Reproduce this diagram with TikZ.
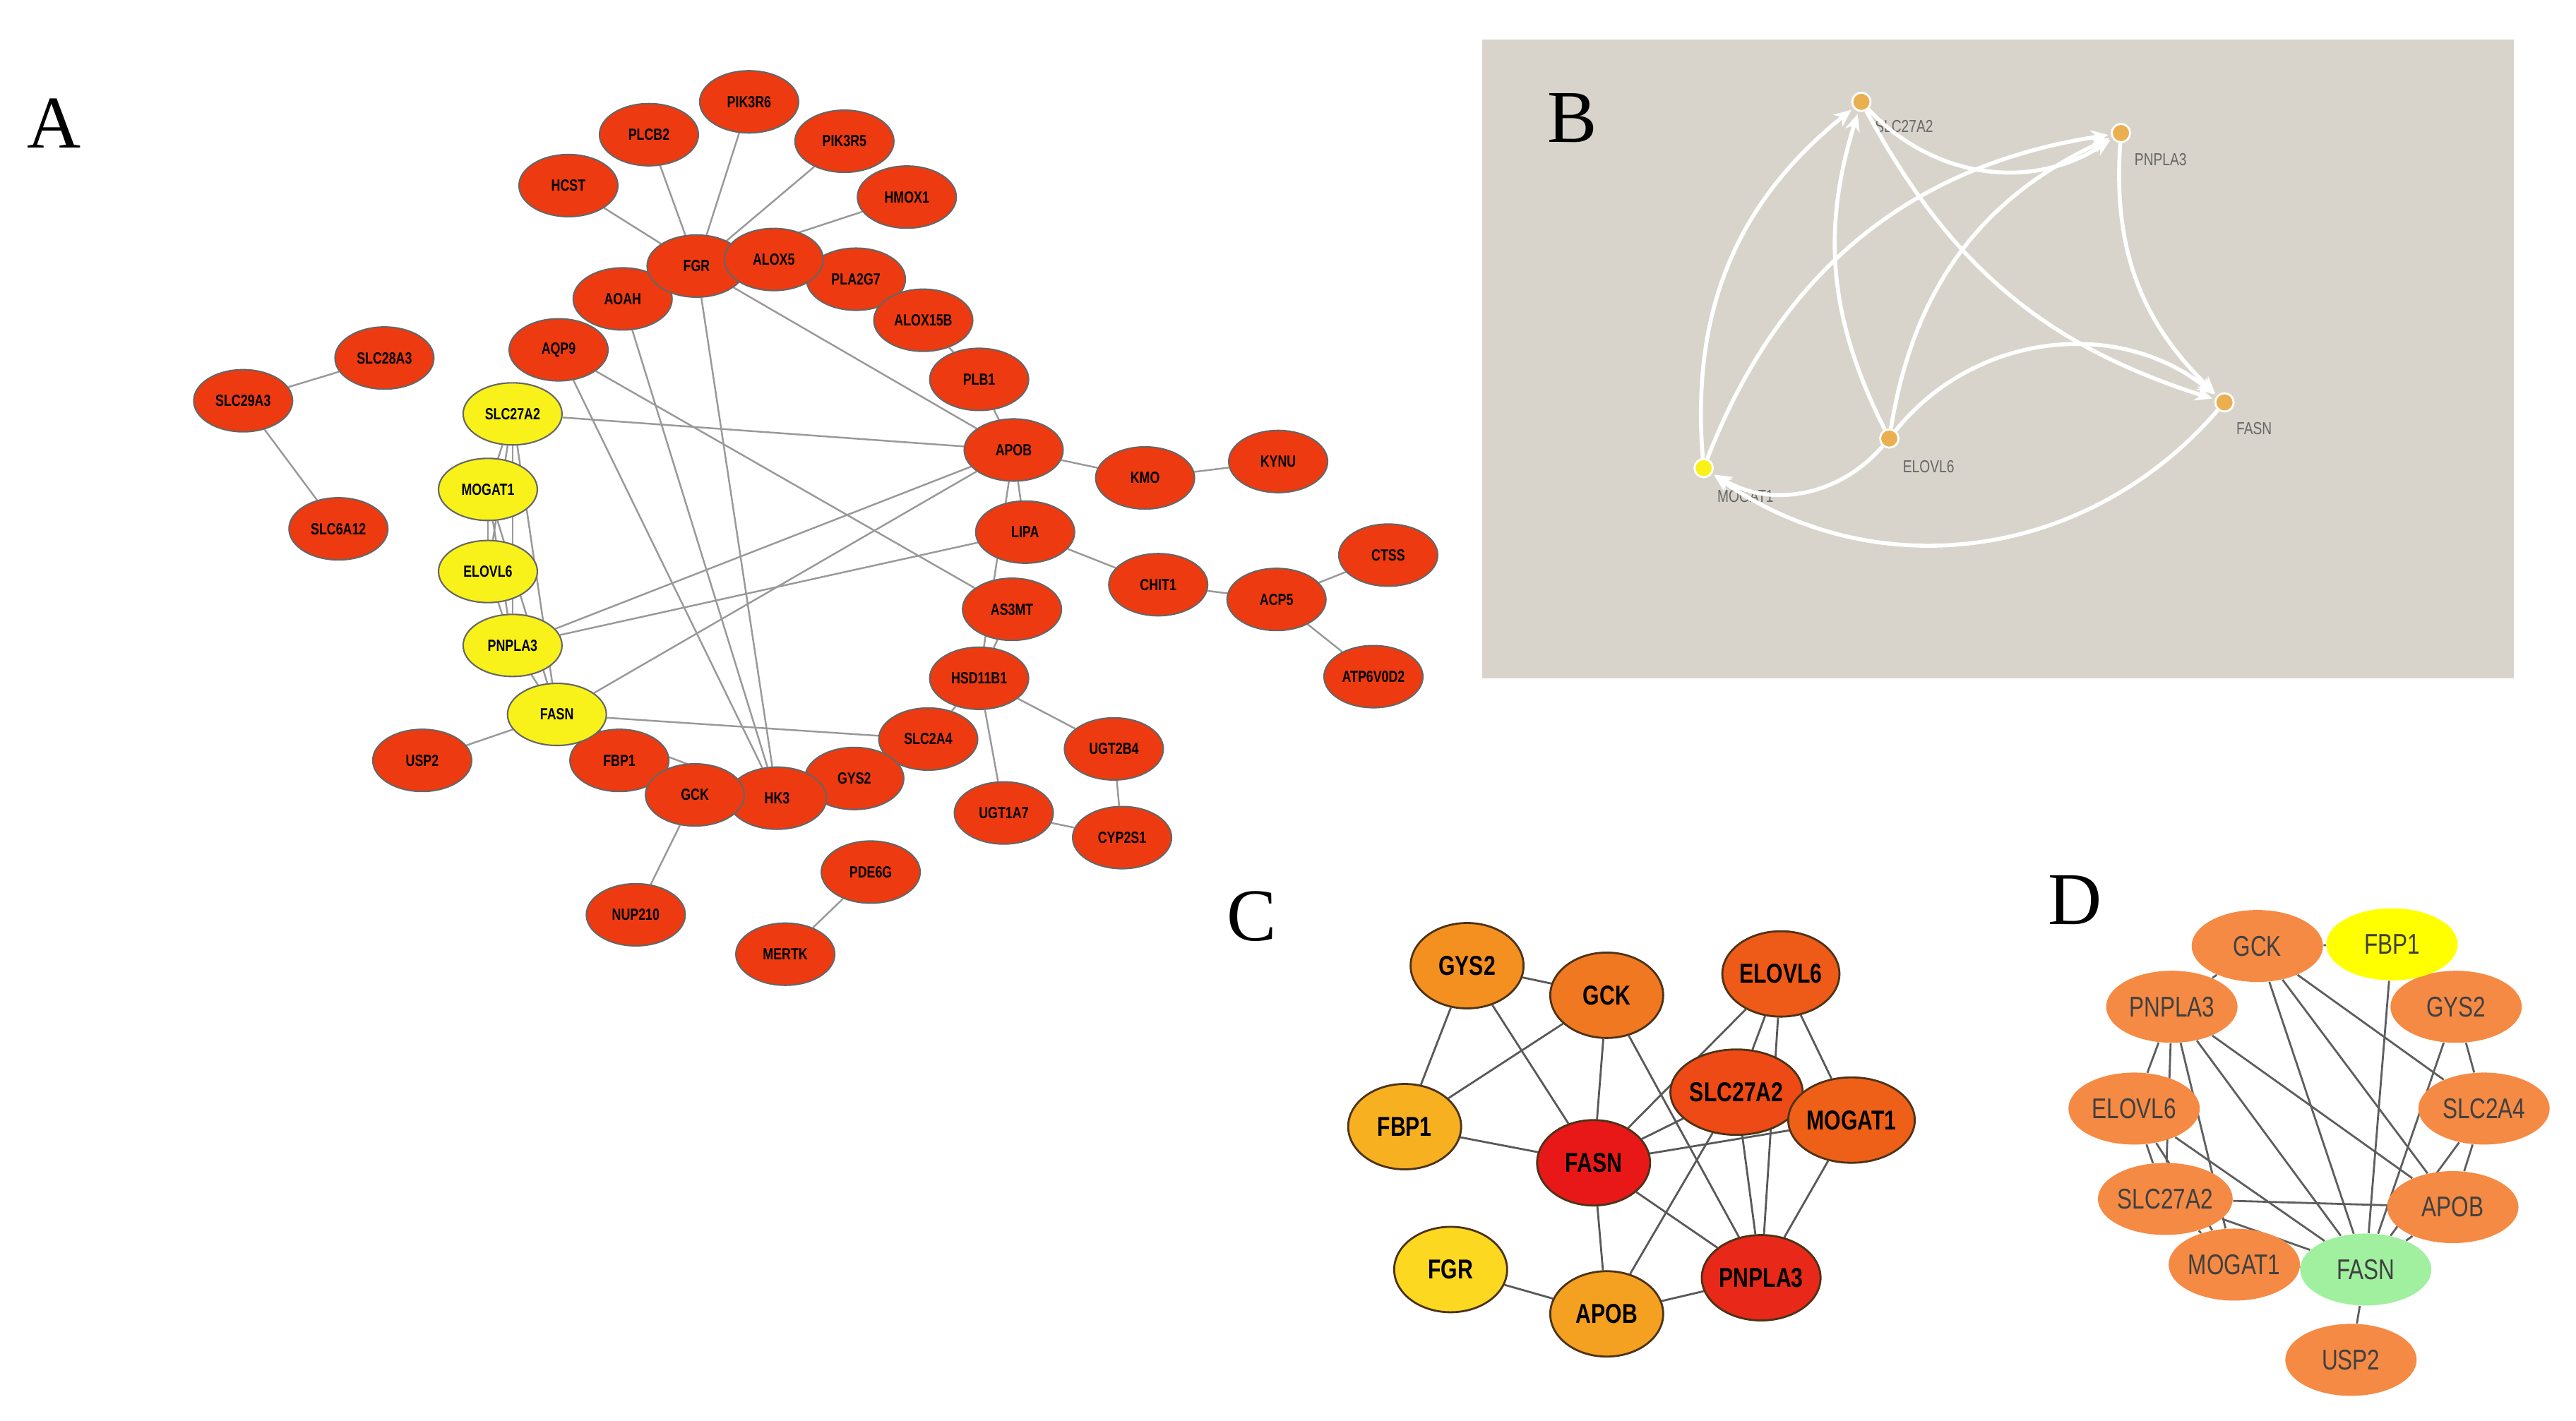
\documentclass[tikz,border=0pt]{standalone}
\usepackage{fontspec}
\setmainfont{Liberation Serif}
\newfontfamily\sansf{Liberation Sans}
\newfontfamily\sansn{Liberation Sans}[FakeStretch=0.78]
\usetikzlibrary{shapes.geometric,arrows.meta,backgrounds}
\definecolor{ared}{HTML}{EE3A10}
\definecolor{ayel}{HTML}{F8F21A}
\definecolor{bbg}{HTML}{D8D4CC}
\definecolor{bdot}{HTML}{EAB050}
\definecolor{dorg}{HTML}{F58A45}
\tikzset{
 an/.style={ellipse,draw=black!60,line width=0.6pt,fill=ared,minimum width=1.4cm,minimum height=0.88cm,inner sep=0pt,font=\sansn\bfseries\fontsize{6.5}{7}\selectfont},
 ay/.style={an,fill=ayel},
 ae/.style={draw=gray!80,line width=0.7pt},
 bn/.style={circle,draw=white,line width=0.8pt,fill=bdot,minimum size=0.26cm,inner sep=0pt},
 bl/.style={font=\sansn\fontsize{7}{8}\selectfont,text=gray!80!black},
 be/.style={draw=white,line width=1.6pt,-{Stealth[length=7pt,width=6pt]},shorten >=1pt},
 cn/.style={ellipse,draw=black!60!brown,line width=0.8pt,minimum width=1.6cm,minimum height=1.21cm,inner sep=0pt,font=\sansn\bfseries\fontsize{11}{12}\selectfont},
 ce/.style={draw=gray!70!black,line width=0.8pt},
 dn/.style={ellipse,draw=none,fill=dorg,minimum width=1.86cm,minimum height=1.02cm,inner sep=0pt,font=\sansn\fontsize{11.5}{12}\selectfont,text=black!75},
 de/.style={draw=gray!60!black!90,line width=0.8pt},
 pl/.style={font=\fontsize{30}{32}\selectfont},
}
\begin{document}
\begin{tikzpicture}[x=0.02327cm,y=-0.02327cm]
\useasboundingbox (0,0) rectangle (1568,865);
% ---------- Panel A ----------
\node[pl] (LA) at (33,75) {A};
\foreach \n/\x/\y/\t in {PIK3R6/456/62/PIK3R6,PLCB2/395/82/PLCB2,PIK3R5/514/86/PIK3R5,HCST/346/113/HCST,HMOX1/552/120/HMOX1,AOAH/379/182/AOAH,FGR/424/162/FGR,PLA2G7/521/170/PLA2G7,ALOX5/471/158/ALOX5,ALOX15B/562/195/ALOX15B,AQP9/340/213/AQP9,PLB1/596/231/PLB1,SLC28A3/234/218/SLC28A3,SLC29A3/148/244/SLC29A3,APOB/617/274/APOB,KMO/697/291/KMO,KYNU/778/281/KYNU,SLC6A12/206/322/SLC6A12,LIPA/624/324/LIPA,CTSS/845/338/CTSS,CHIT1/705/356/CHIT1,ACP5/777/365/ACP5,AS3MT/616/371/AS3MT,HSD11B1/596/413/HSD11B1,ATP6V0D2/836/412/ATP6V0D2,USP2/257/463/USP2,SLC2A4/565/450/SLC2A4,UGT2B4/678/456/UGT2B4,FBP1/377/463/FBP1,GYS2/520/474/GYS2,HK3/473/486/HK3,GCK/423/484/GCK,UGT1A7/611/495/UGT1A7,CYP2S1/683/510/CYP2S1,PDE6G/530/531/PDE6G,NUP210/387/557/NUP210,MERTK/478/581/MERTK}
  \node[an] (a\n) at (\x,\y) {\t};
\foreach \n/\x/\y in {SLC27A2/312/252,MOGAT1/297/298,ELOVL6/297/348,PNPLA3/312/393,FASN/339/435}
  \node[ay] (a\n) at (\x,\y) {\n};
\begin{scope}[on background layer]
\foreach \u/\v in {HCST/FGR,PLCB2/FGR,PIK3R6/FGR,PIK3R5/FGR,HMOX1/FGR,FGR/APOB,AQP9/HK3,AOAH/HK3,FGR/HK3,AQP9/AS3MT,SLC27A2/APOB,PNPLA3/APOB,FASN/APOB,PNPLA3/LIPA,SLC29A3/SLC28A3,SLC29A3/SLC6A12,APOB/KMO,KMO/KYNU,APOB/LIPA,LIPA/CHIT1,CHIT1/ACP5,ACP5/CTSS,ACP5/ATP6V0D2,PLB1/APOB,ALOX15B/PLB1,APOB/HSD11B1,AS3MT/HSD11B1,HSD11B1/UGT2B4,HSD11B1/UGT1A7,UGT2B4/CYP2S1,UGT1A7/CYP2S1,FASN/SLC2A4,FASN/HK3,FASN/USP2,GCK/NUP210,PDE6G/MERTK,SLC27A2/MOGAT1,MOGAT1/ELOVL6,ELOVL6/PNPLA3,PNPLA3/FASN,SLC27A2/PNPLA3,MOGAT1/PNPLA3,SLC27A2/ELOVL6,SLC27A2/FASN,MOGAT1/FASN,HSD11B1/SLC2A4}
  \draw[ae] (a\u) -- (a\v);
\end{scope}
% ---------- Panel B ----------
\fill[bbg] (902,24) rectangle (1530,413);
\node[pl] (LB) at (957,72) {B};
\node[bn] (bS) at (1133,62) {};
\node[bn] (bP) at (1291,81) {};
\node[bn] (bF) at (1354,245) {};
\node[bn] (bE) at (1150,267) {};
\node[bn,fill=ayel] (bM) at (1037,285) {};
\node[bl,anchor=north west] (tS) at (1136,68) {SLC27A2};
\node[bl,anchor=north west] (tP) at (1294,88) {PNPLA3};
\node[bl,anchor=north west] (tF) at (1356,252) {FASN};
\node[bl,anchor=north west] (tE) at (1153,275) {ELOVL6};
\node[bl,anchor=north west] (tM) at (1040,293) {MOGAT1};
\draw[be] (bM) to[bend left=28] (bS);
\draw[be] (bM) to[bend left=30] (bP);
\draw[be] (bE) to[bend left=22] (bS);
\draw[be] (bE) to[bend left=28] (bP);
\draw[be] (bS) to[bend right=40] (bP);
\draw[be] (bS) to[bend right=22] (bF);
\draw[be] (bP) to[bend right=25] (bF);
\draw[be] (bE) to[bend left=45] (bF);
\draw[be] (bF) to[bend left=42] (bM);
\draw[be] (bE) to[bend left=40] (bM);
% ---------- Panel C ----------
\node[pl] (LC) at (762,558) {C};
\node[cn,fill={rgb,255:red,243;green,144;blue,32}] (cGYS2) at (893,588) {GYS2};
\node[cn,fill={rgb,255:red,240;green,120;blue,32}] (cGCK) at (978,606) {GCK};
\node[cn,fill={rgb,255:red,238;green,90;blue,24}] (cELOVL6) at (1084,593) {ELOVL6};
\node[cn,fill={rgb,255:red,246;green,176;blue,32}] (cFBP1) at (855,686) {FBP1};
\node[cn,fill={rgb,255:red,238;green,74;blue,21}] (cSLC27A2) at (1057,665) {SLC27A2};
\node[cn,fill={rgb,255:red,238;green,96;blue,24}] (cMOGAT1) at (1127,682) {MOGAT1};
\node[cn,fill={rgb,255:red,232;green,24;blue,24}] (cFASN) at (970,708) {FASN};
\node[cn,fill={rgb,255:red,252;green,216;blue,32}] (cFGR) at (883,773) {FGR};
\node[cn,fill={rgb,255:red,244;green,160;blue,32}] (cAPOB) at (978,800) {APOB};
\node[cn,fill={rgb,255:red,232;green,40;blue,24}] (cPNPLA3) at (1072,778) {PNPLA3};
\begin{scope}[on background layer]
\foreach \u/\v in {GYS2/GCK,GYS2/FBP1,GYS2/FASN,GCK/FBP1,GCK/FASN,GCK/PNPLA3,FBP1/FASN,ELOVL6/SLC27A2,ELOVL6/FASN,ELOVL6/PNPLA3,ELOVL6/MOGAT1,SLC27A2/MOGAT1,SLC27A2/FASN,SLC27A2/PNPLA3,SLC27A2/APOB,FASN/MOGAT1,FASN/APOB,FASN/PNPLA3,MOGAT1/PNPLA3,FGR/APOB,APOB/PNPLA3}
  \draw[ce] (c\u) -- (c\v);
\end{scope}
% ---------- Panel D ----------
\node[pl] (LD) at (1263,548) {D};
\foreach \n/\x/\y in {GCK/1374/576,PNPLA3/1322/613,GYS2/1495/613,ELOVL6/1299/675,SLC2A4/1512/675,SLC27A2/1318/730,APOB/1493/735,MOGAT1/1360/770,USP2/1431/828}
  \node[dn] (d\n) at (\x,\y) {\n};
\node[dn,fill={rgb,255:red,255;green,255;blue,0}] (dFBP1) at (1456,575) {FBP1};
\node[dn,fill={rgb,255:red,160;green,240;blue,160}] (dFASN) at (1440,773) {FASN};
\begin{scope}[on background layer]
\foreach \u/\v in {GCK/FASN,FBP1/FASN,PNPLA3/FASN,ELOVL6/FASN,SLC27A2/FASN,MOGAT1/FASN,APOB/FASN,SLC2A4/FASN,GYS2/FASN,USP2/FASN,GCK/FBP1,GCK/PNPLA3,GCK/SLC2A4,GCK/APOB,FBP1/GYS2,GYS2/SLC2A4,SLC2A4/APOB,PNPLA3/ELOVL6,PNPLA3/SLC27A2,PNPLA3/MOGAT1,PNPLA3/APOB,ELOVL6/SLC27A2,ELOVL6/MOGAT1,SLC27A2/MOGAT1,SLC27A2/APOB}
  \draw[de] (d\u) -- (d\v);
\end{scope}
\end{tikzpicture}
\end{document}
